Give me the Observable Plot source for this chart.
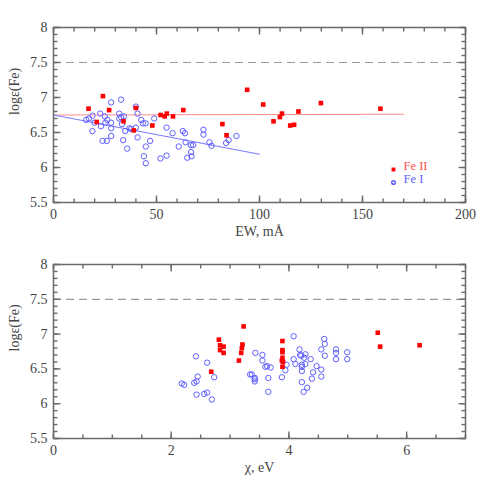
<!DOCTYPE html>
<html>
<head>
<meta charset="utf-8">
<script src="https://cdn.jsdelivr.net/npm/d3@7"></script>
<script src="https://cdn.jsdelivr.net/npm/@observablehq/plot@0.6"></script>
<style>
  body { margin: 0; background: #fff; }
  #chart { width: 491px; height: 491px; }
  #chart svg { display: block; }
</style>
</head>
<body>
<div id="chart"></div>
<script>
// ---- Top panel: abundance vs equivalent width ----
const feII_ew = [17, 21, 24, 27, 34, 39, 40, 48, 52, 54, 55, 58, 63, 82, 84, 94, 101.8, 106.8, 109.9, 110.9, 114.9, 116.8, 118.9, 129.8, 158.7];
const feII_ewAbund = [6.84, 6.65, 7.02, 6.82, 6.66, 6.53, 6.85, 6.60, 6.75, 6.73, 6.77, 6.73, 6.82, 6.62, 6.46, 7.11, 6.90, 6.66, 6.72, 6.77, 6.60, 6.61, 6.80, 6.92, 6.84];

const feI_ew = [15.9, 17.2, 18.9, 18.9, 19.9, 22.7, 23.0, 23.8, 24.9, 25.2, 25.9, 26.1, 28.0, 28.0, 28.0, 28.0, 31.9, 31.9, 32.8, 32.8, 33.2, 33.8, 34.1, 34.8, 35.8, 36.9, 37.7, 40.0, 40.0, 40.8, 40.8, 42.6, 43.4, 43.9, 44.7, 44.8, 44.8, 46.9, 48.9, 51.9, 54.9, 54.9, 57.8, 60.8, 62.8, 63.8, 64.1, 64.9, 66.7, 66.8, 67.0, 67.8, 72.8, 72.8, 75.7, 76.7, 83.8, 85.0, 88.8];
const feI_ewAbund = [6.68, 6.70, 6.74, 6.52, 6.64, 6.77, 6.59, 6.38, 6.73, 6.64, 6.38, 6.68, 6.93, 6.64, 6.56, 6.45, 6.77, 6.70, 6.97, 6.72, 6.62, 6.39, 6.73, 6.52, 6.27, 6.56, 6.55, 6.87, 6.57, 6.77, 6.43, 6.68, 6.63, 6.16, 6.63, 6.30, 6.06, 6.38, 6.70, 6.13, 6.57, 6.17, 6.49, 6.30, 6.52, 6.49, 6.36, 6.14, 6.32, 6.22, 6.16, 6.32, 6.54, 6.47, 6.36, 6.31, 6.35, 6.39, 6.45];

const fitFeII_x = [0, 170];
const fitFeII_y = [6.75, 6.76];
const fitFeI_x = [0, 100];
const fitFeI_y = [6.75, 6.19];

// ---- Bottom panel: abundance vs excitation potential ----
const feII_chi = [2.68, 2.81, 2.83, 2.83, 2.89, 2.89, 3.15, 3.19, 3.20, 3.21, 3.23, 3.89, 3.89, 3.89, 3.89, 3.88, 3.90, 3.89, 5.51, 5.55, 6.22];
const feII_chiAbund = [6.46, 6.92, 6.84, 6.77, 6.82, 6.73, 6.62, 6.73, 6.80, 6.85, 7.11, 6.90, 6.77, 6.74, 6.66, 6.62, 6.60, 6.53, 7.02, 6.82, 6.84];

const feI_chi = [2.18, 2.22, 2.39, 2.42, 2.43, 2.43, 2.45, 2.56, 2.61, 2.61, 2.69, 2.73, 3.34, 3.37, 3.42, 3.42, 3.42, 3.43, 3.55, 3.55, 3.60, 3.63, 3.65, 3.65, 3.69, 3.88, 3.94, 3.96, 4.08, 4.08, 4.11, 4.18, 4.19, 4.21, 4.22, 4.22, 4.22, 4.22, 4.25, 4.26, 4.28, 4.28, 4.31, 4.37, 4.39, 4.41, 4.47, 4.55, 4.55, 4.55, 4.60, 4.61, 4.61, 4.80, 4.80, 4.80, 4.99, 4.99];
const feI_chiAbund = [6.29, 6.27, 6.30, 6.68, 6.32, 6.13, 6.39, 6.14, 6.59, 6.16, 6.06, 6.38, 6.42, 6.42, 6.37, 6.35, 6.32, 6.73, 6.70, 6.62, 6.53, 6.54, 6.37, 6.17, 6.52, 6.38, 6.48, 6.56, 6.97, 6.64, 6.57, 6.78, 6.70, 6.69, 6.56, 6.53, 6.47, 6.31, 6.17, 6.66, 6.71, 6.57, 6.23, 6.64, 6.36, 6.45, 6.54, 6.78, 6.49, 6.39, 6.93, 6.86, 6.69, 6.78, 6.73, 6.64, 6.74, 6.64];

const solarFe = [7.5];
const legendLabels = ["Fe II", "Fe I"];
const yLabel = "log\u03b5(Fe)";
const xLabelTop = "EW, m\u00c5";
const xLabelBottom = "\u03c7, eV";

const yDomain = [5.5, 8];
const yMajor = [5.5, 6, 6.5, 7, 7.5, 8];
const yMinor = d3.range(55, 81).map(d => d / 10);
const xMajorTop = [0, 50, 100, 150, 200];
const xMinorTop = d3.range(0, 201, 10);
const xMajorBottom = [0, 2, 4, 6];
const xMinorBottom = d3.range(0, 7.01, 0.5);

const FONT = "Liberation Serif";
const TXT = "#444";
const FRAME = "#6a6a6a";
const RED = "#ff0000";
const BLUE = "#6060ff";

const W = 491, ML = 53, MR = 26;
const zip = (xs, ys) => xs.map((x, i) => ({x, y: ys[i]}));

function panel({height, marginTop, marginBottom, xDomain, xMajor, xMinor, xLabel, fe1, fe2, fits, legend}) {
  const fh = height - marginTop - marginBottom;
  const fw = W - ML - MR;
  const yPer = (yDomain[1] - yDomain[0]) / fh;
  const xPer = (xDomain[1] - xDomain[0]) / fw;
  // inward tick segments built from the tick value lists
  const xTickSegs = [];
  for (const [vals, len] of [[xMajor, 7], [xMinor, 4]]) {
    for (const v of vals) {
      xTickSegs.push({x: v, y1: yDomain[0], y2: yDomain[0] + len * yPer});
      xTickSegs.push({x: v, y1: yDomain[1], y2: yDomain[1] - len * yPer});
    }
  }
  const yTickSegs = [];
  for (const [vals, len] of [[yMajor, 7], [yMinor, 4]]) {
    for (const v of vals) {
      yTickSegs.push({y: v, x1: xDomain[0], x2: xDomain[0] + len * xPer});
      yTickSegs.push({y: v, x1: xDomain[1], x2: xDomain[1] - len * xPer});
    }
  }
  const marks = [];
  marks.push(Plot.ruleY(solarFe, {stroke: "#9a9a9a", strokeDasharray: "8,5", strokeWidth: 1.2}));
  for (const f of fits) {
    marks.push(Plot.line(zip(f.x, f.y), {x: "x", y: "y", stroke: f.color, strokeWidth: 1.1}));
  }
  marks.push(Plot.dot(fe1, {x: "x", y: "y", r: 2.7, stroke: BLUE, strokeWidth: 1, fill: "none"}));
  marks.push(Plot.dot(fe2, {x: "x", y: "y", r: 2.6, symbol: "square", fill: RED, stroke: "none"}));
  marks.push(Plot.link(xTickSegs, {x1: "x", x2: "x", y1: "y1", y2: "y2", stroke: FRAME, strokeWidth: 1.4}));
  marks.push(Plot.link(yTickSegs, {y1: "y", y2: "y", x1: "x1", x2: "x2", stroke: FRAME, strokeWidth: 1.4}));
  marks.push(Plot.frame({stroke: FRAME, strokeWidth: 1.5}));
  marks.push(Plot.axisX({anchor: "bottom", ticks: xMajor, tickSize: 0, tickPadding: 7, tickFormat: d => String(d), fill: TXT, label: null, fontSize: 14}));
  marks.push(Plot.axisY({anchor: "left", ticks: yMajor, tickSize: 0, tickPadding: 6, tickFormat: d => String(d), fill: TXT, label: null, fontSize: 14}));
  marks.push(Plot.text([xLabel], {text: d => d, frameAnchor: "bottom", dy: 33, fill: TXT, fontSize: 14}));
  marks.push(Plot.text([yLabel], {text: d => d, frameAnchor: "left", dx: -39, rotate: -90, fill: TXT, fontSize: 14}));
  if (legend) {
    marks.push(Plot.dot([legendLabels[0]], {frameAnchor: "bottom-right", dx: -72, dy: -33, r: 2.2, symbol: "square", fill: RED}));
    marks.push(Plot.dot([legendLabels[1]], {frameAnchor: "bottom-right", dx: -72, dy: -20, r: 1.8, stroke: BLUE, fill: "none"}));
    marks.push(Plot.text([legendLabels[0]], {text: d => d, frameAnchor: "bottom-right", dx: -62, dy: -33, textAnchor: "start", fill: "#ff5050", fontSize: 12.5}));
    marks.push(Plot.text([legendLabels[1]], {text: d => d, frameAnchor: "bottom-right", dx: -62, dy: -20, textAnchor: "start", fill: BLUE, fontSize: 12.5}));
  }
  return Plot.plot({
    width: W,
    height,
    marginLeft: ML,
    marginRight: MR,
    marginTop,
    marginBottom,
    style: {fontFamily: FONT, background: "#fff", overflow: "visible"},
    x: {domain: xDomain},
    y: {domain: yDomain},
    marks
  });
}

const topPanel = panel({
  height: 245, marginTop: 27, marginBottom: 43,
  xDomain: [0, 200], xMajor: xMajorTop, xMinor: xMinorTop, xLabel: xLabelTop,
  fe1: zip(feI_ew, feI_ewAbund), fe2: zip(feII_ew, feII_ewAbund),
  fits: [{x: fitFeII_x, y: fitFeII_y, color: "#ff8c8c"}, {x: fitFeI_x, y: fitFeI_y, color: "#7a7aff"}],
  legend: true
});
const bottomPanel = panel({
  height: 246, marginTop: 19, marginBottom: 53,
  xDomain: [0, 7], xMajor: xMajorBottom, xMinor: xMinorBottom, xLabel: xLabelBottom,
  fe1: zip(feI_chi, feI_chiAbund), fe2: zip(feII_chi, feII_chiAbund),
  fits: [], legend: false
});
document.getElementById("chart").append(topPanel, bottomPanel);
</script>
</body>
</html>
